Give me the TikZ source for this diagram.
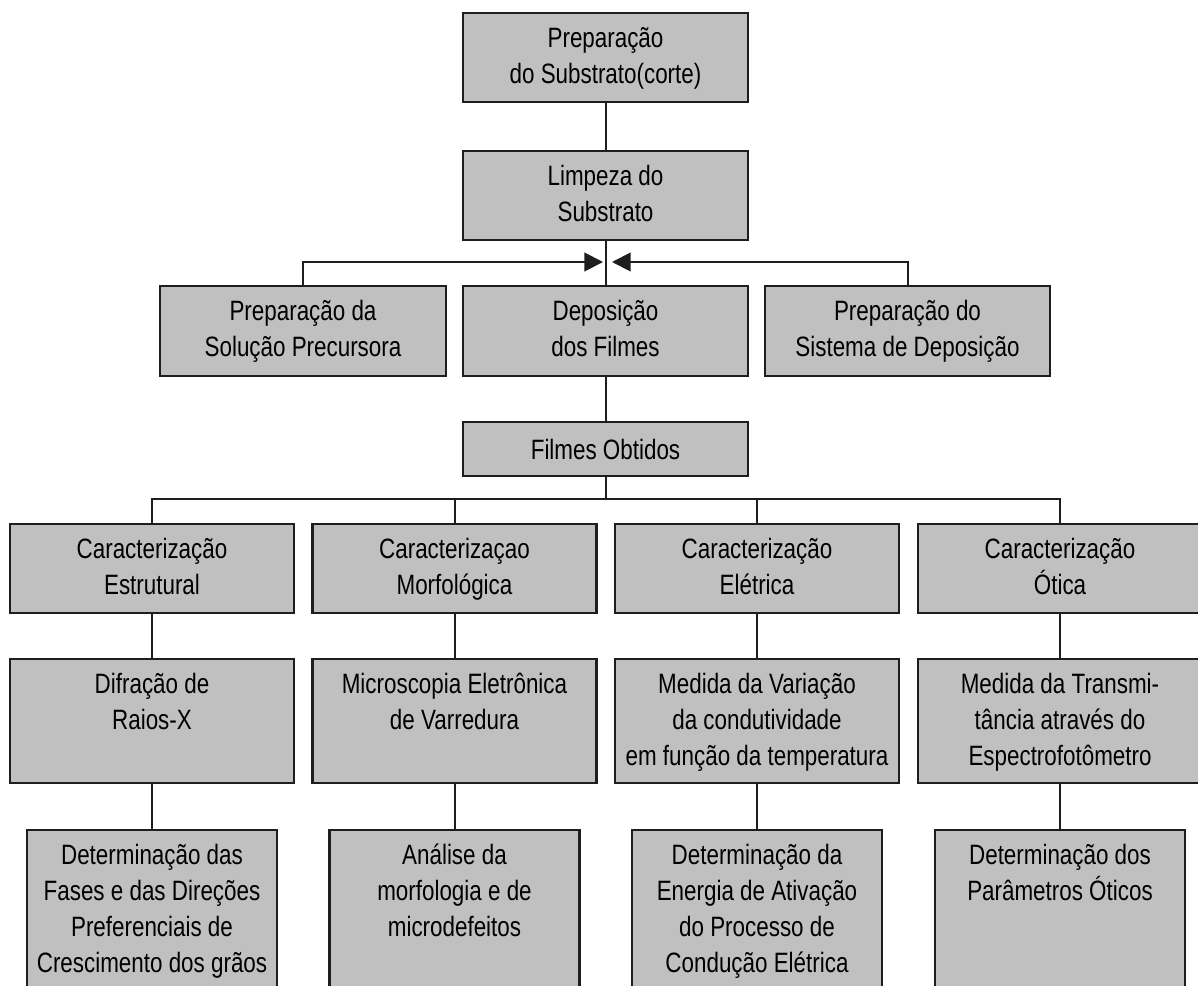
\documentclass[tikz,border=0pt]{standalone}
\usepackage{fontspec}
\setmainfont{Liberation Sans}[FakeStretch=0.8]
\usetikzlibrary{arrows.meta}
\definecolor{boxgray}{RGB}{192,192,192}
\definecolor{edgegray}{RGB}{30,30,30}
\newcommand{\bxt}[3]{\parbox[c][#2][t]{#1}{\centering\rule{0pt}{25.5pt}#3}}
\tikzset{
  box/.style={draw=edgegray, fill=boxgray, line width=1.6pt, inner sep=0pt, align=center,
    font=\fontsize{21}{27}\selectfont},
  link/.style={draw=edgegray, line width=1.5pt},
  tip/.style={link, -{Triangle[length=14pt,width=14pt]}}
}
\begin{document}
\begin{tikzpicture}[x=0.75pt,y=-0.75pt]
\useasboundingbox (0,0) rectangle (1198,985);
\clip (0,0) rectangle (1198,985);
\fill[white] (0,0) rectangle (1198,985);
% top column
\node[box] (prep) at (605.5,57.5) {\bxt{213.75pt}{66.75pt}{Preparação\\do Substrato(corte)}};
\node[box] (limp) at (605.5,195.5) {\bxt{213.75pt}{66.75pt}{Limpeza do\\Substrato}};
\node[box] (sol) at (303,331) {\bxt{214.5pt}{67.5pt}{Preparação da\\Solução Precursora}};
\node[box] (dep) at (605.5,331) {\bxt{213.75pt}{67.5pt}{Deposição\\dos Filmes}};
\node[box] (sis) at (907.5,331) {\bxt{213.75pt}{67.5pt}{Preparação do\\Sistema de Deposição}};
\node[box, minimum width=213.75pt, minimum height=40.5pt] (fil) at (605.5,449) {Filmes Obtidos};
% row 3
\node[box] (est) at (152,568.5) {\bxt{213pt}{66.75pt}{Caracterização\\Estrutural}};
\node[box] (mor) at (454.5,568.5) {\bxt{213pt}{66.75pt}{Caracterizaçao\\Morfológica}};
\node[box] (ele) at (757,568.5) {\bxt{213pt}{66.75pt}{Caracterização\\Elétrica}};
\node[box] (oti) at (1060,568.5) {\bxt{213pt}{66.75pt}{Caracterização\\Ótica}};
% row 4
\node[box] (dif) at (152,721) {\bxt{213pt}{93pt}{Difração de\\Raios-X}};
\node[box] (mic) at (454.5,721) {\bxt{213pt}{93pt}{Microscopia Eletrônica\\de Varredura}};
\node[box] (med) at (757,721) {\bxt{213pt}{93pt}{Medida da Variação\\da condutividade\\em função da temperatura}};
\node[box] (tra) at (1060,721) {\bxt{213pt}{93pt}{Medida da Transmi-\\tância através do\\Espectrofotômetro}};
% row 5
\node[box] (det) at (152,915) {\bxt{187.5pt}{127.5pt}{Determinação das\\Fases e das Direções\\Preferenciais de\\Crescimento dos grãos}};
\node[box] (ana) at (454.5,915) {\bxt{187.5pt}{127.5pt}{Análise da\\morfologia e de\\microdefeitos}};
\node[box] (ene) at (757,915) {\bxt{187.5pt}{127.5pt}{Determinação da\\Energia de Ativação\\do Processo de\\Condução Elétrica}};
\node[box] (par) at (1060,915) {\bxt{187.5pt}{127.5pt}{Determinação dos\\Parâmetros Óticos}};
% connectors
\coordinate (jl) at (603,262);
\coordinate (jr) at (612,262);
\coordinate (bus) at (605.5,499);
\draw[link] (prep) -- (limp);
\draw[link] (limp) -- (dep);
\draw[tip] (sol.north) |- (jl);
\draw[tip] (sis.north) |- (jr);
\draw[link] (dep) -- (fil);
\draw[link] (fil) -- (bus);
\draw[link] (bus) -| (est.north);
\draw[link] (bus) -| (mor.north);
\draw[link] (bus) -| (ele.north);
\draw[link] (bus) -| (oti.north);
\draw[link] (est) -- (dif);
\draw[link] (mor) -- (mic);
\draw[link] (ele) -- (med);
\draw[link] (oti) -- (tra);
\draw[link] (dif) -- (det);
\draw[link] (mic) -- (ana);
\draw[link] (med) -- (ene);
\draw[link] (tra) -- (par);
\end{tikzpicture}
\end{document}
